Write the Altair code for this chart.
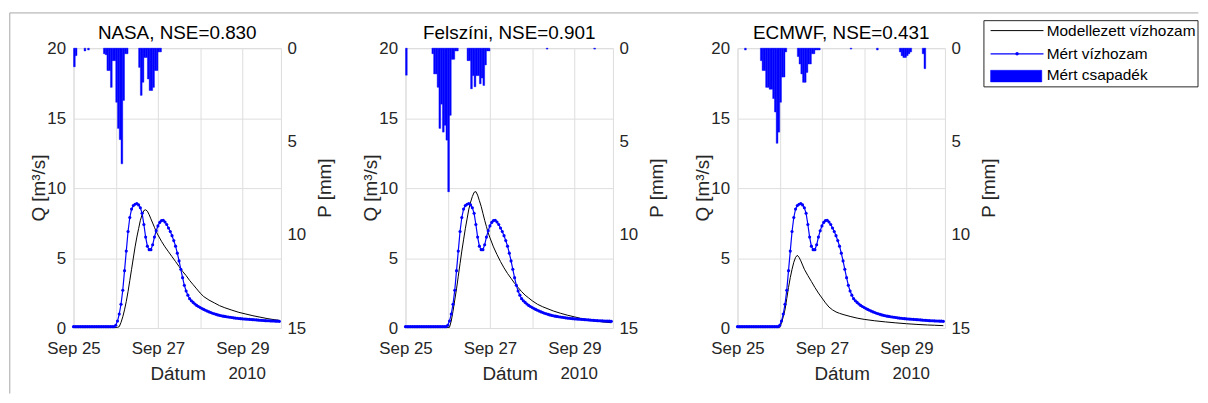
import altair as alt
import pandas as pd

FONT = "Liberation Sans"
AX = "#262626"
GRID = "#dedede"
BLUE = "#0000ff"
FRAME = "#a6a6a6"

TITLES = ["NASA, NSE=0.830", "Felszíni, NSE=0.901", "ECMWF, NSE=0.431"]
X_TICK_HOURS = [0, 24, 48, 72, 96]
X_TICK_LABELS = ["Sep 25", "", "Sep 27", "", "Sep 29"]
Q_TICKS = [0, 5, 10, 15, 20]
P_TICKS = [0, 5, 10, 15]
LEGEND_LABELS = ["Modellezett vízhozam", "Mért vízhozam", "Mért csapadék"]
YEAR_LABEL = "2010"
X_TITLE = "Dátum"
Q_TITLE = "Q [m³/s]"
P_TITLE = "P [mm]"

# measured discharge, hourly from 2010-09-25 00:00
OBS_Q = [0.1] * 24 + [
    0.2, 0.5, 1.0, 1.7, 2.7, 4.1, 5.5, 6.9, 7.9, 8.5, 8.75, 8.85, 8.9, 8.8, 8.6, 8.2,
    7.4, 6.5, 5.85, 5.6, 5.6, 5.95, 6.5, 6.95, 7.3, 7.55, 7.68, 7.7, 7.58, 7.4, 7.15, 6.9,
    6.6, 6.25, 5.85, 5.35, 4.8, 4.2, 3.6, 3.05, 2.65, 2.35, 2.1, 1.95, 1.83, 1.72, 1.62, 1.54,
    1.47, 1.4, 1.33, 1.27, 1.21, 1.16, 1.11, 1.06, 1.02, 0.98, 0.94, 0.91, 0.88, 0.85, 0.83, 0.81,
    0.79, 0.77, 0.75, 0.73, 0.71, 0.7, 0.68, 0.67, 0.66, 0.65, 0.64, 0.63, 0.62, 0.61, 0.6, 0.59,
    0.58, 0.57, 0.56, 0.55, 0.54, 0.53, 0.52, 0.52, 0.51, 0.5, 0.5, 0.49, 0.49, 0.48]
OBS_H = list(range(len(OBS_Q)))

NASA_MOD_H = [0, 25, 26, 27, 28, 29, 30, 31, 32, 33, 34, 35, 36, 37, 38, 39, 40, 41, 42, 43, 44, 45, 46, 47, 48,
              50, 52, 54, 56, 58, 60, 62, 64, 66, 68, 70, 72, 74, 77, 80, 83, 86, 90, 94, 98, 102, 106, 110, 114, 117]
NASA_MOD_Q = [0.05, 0.05, 0.1, 0.4, 0.8, 1.3, 1.9, 2.6, 3.4, 4.2, 5.0, 5.8, 6.5, 7.1, 7.7, 8.1, 8.4, 8.45, 8.35, 8.1, 7.8,
              7.5, 7.2, 6.9, 6.65, 6.2, 5.8, 5.45, 5.1, 4.75, 4.4, 4.05, 3.75, 3.4, 3.1, 2.8, 2.5, 2.25, 2.0, 1.8,
              1.6, 1.45, 1.28, 1.12, 1.0, 0.88, 0.78, 0.68, 0.6, 0.55]

FELSZ_MOD_H = [0, 25, 26, 27, 28, 29, 30, 31, 32, 33, 34, 35, 36, 37, 38, 39, 40, 41, 42, 43, 44, 45, 46, 47, 48,
               50, 52, 54, 56, 58, 60, 62, 64, 66, 68, 70, 72, 75, 78, 81, 84, 88, 92, 96, 100, 104, 108, 112, 117]
FELSZ_MOD_Q = [0.05, 0.05, 0.5, 1.2, 2.0, 2.8, 3.7, 4.6, 5.5, 6.3, 7.1, 7.8, 8.5, 9.0, 9.4, 9.7, 9.75, 9.5, 9.1, 8.7,
               8.2, 7.7, 7.25, 6.8, 6.45, 5.8, 5.25, 4.75, 4.3, 3.9, 3.55, 3.2, 2.9, 2.6, 2.35, 2.15, 1.95, 1.7,
               1.52, 1.37, 1.22, 1.06, 0.92, 0.8, 0.68, 0.58, 0.5, 0.44, 0.38]

ECMWF_MOD_H = [0, 24, 25, 26, 27, 28, 29, 30, 31, 32, 33, 34, 35, 36, 37, 38, 40, 42, 44, 46, 48, 50, 52, 54, 56,
               58, 60, 64, 68, 72, 78, 84, 90, 96, 102, 108, 112, 117]
ECMWF_MOD_Q = [0.05, 0.05, 0.35, 0.8, 1.3, 2.1, 2.9, 3.6, 4.2, 4.7, 5.05, 5.2, 5.05, 4.8, 4.5, 4.2, 3.75, 3.33, 2.9,
               2.5, 2.15, 1.8, 1.5, 1.3, 1.15, 1.05, 0.97, 0.83, 0.71, 0.62, 0.52, 0.44, 0.37, 0.31, 0.26, 0.22,
               0.2, 0.17]

# measured precipitation, hourly bars
NASA_P_H = [0, 1, 6, 8, 17, 18, 19, 20, 21, 22, 23, 24, 25, 26, 27, 28, 29, 30,
            37, 38, 39, 40, 41, 42, 43, 44, 45, 46, 47, 48, 49]
NASA_P = [1.0, 0.4, 0.15, 0.1, 0.3, 0.35, 1.2, 1.2, 2.1, 0.67, 0.67, 2.9, 4.3, 4.9, 6.2, 2.8, 0.3, 0.3,
          1.03, 2.53, 1.83, 0.5, 0.5, 1.65, 2.27, 2.27, 2.1, 1.2, 1.2, 0.2, 0.2]

FELSZ_P_H = [0, 15, 16, 17, 18, 19, 20, 21, 22, 23, 24, 25, 26, 27, 28, 29,
             35, 36, 37, 38, 39, 40, 41, 42, 43, 44, 45, 46, 47, 80, 107]
FELSZ_P = [1.45, 0.3, 1.38, 1.38, 2.1, 4.3, 3.0, 4.5, 4.13, 4.93, 7.7, 3.6, 0.6, 0.6, 0.15, 0.15,
           0.67, 0.67, 2.18, 1.47, 2.07, 1.47, 1.47, 1.91, 1.6, 2.0, 0.9, 0.15, 0.15, 0.05, 0.05]

ECMWF_P_H = [4, 13, 14, 15, 16, 17, 18, 19, 20, 21, 22, 23, 24, 25, 26, 27,
             34, 35, 36, 37, 38, 39, 40, 41, 42, 43, 44, 45, 46, 64, 79,
             92, 93, 94, 95, 96, 97, 98, 105, 106]
ECMWF_P = [0.1, 0.67, 1.2, 1.2, 2.1, 2.1, 2.2, 2.2, 2.7, 3.42, 5.1, 4.5, 2.9, 1.55, 1.55, 0.2,
           0.45, 0.85, 1.38, 1.83, 1.83, 1.3, 0.85, 0.85, 0.3, 0.3, 0.1, 0.1, 0.1, 0.05, 0.1,
           0.2, 0.4, 0.5, 0.5, 0.4, 0.3, 0.2, 0.3, 1.1]

W, H = 209, 282

label_expr = "''"
for hr, lab in reversed(list(zip(X_TICK_HOURS, X_TICK_LABELS))):
    label_expr = f"datum.value == {hr} ? '{lab}' : ({label_expr})"

x_axis = alt.Axis(values=X_TICK_HOURS, labelExpr=label_expr, grid=True, gridColor=GRID,
                  ticks=False, tickSize=0, domain=False, labelPadding=13, labelFlush=False,
                  labelFontSize=17, labelColor=AX, labelFont=FONT, title=None)
x_scale = alt.Scale(domain=[0, 117.9], nice=False, zero=False)

q_axis = alt.Axis(values=Q_TICKS, grid=True, gridColor=GRID, ticks=False, tickSize=0, domain=False,
                  labelPadding=8, labelFlush=False, labelFontSize=17, labelColor=AX, labelFont=FONT,
                  title=None)
q_scale = alt.Scale(domain=[0, 20], nice=False, zero=True)

p_axis = alt.Axis(orient="right", values=P_TICKS, grid=False, ticks=False, tickSize=0, domain=False,
                  labelPadding=6, labelFlush=False, labelFontSize=17, labelColor=AX, labelFont=FONT,
                  title=None)
p_scale = alt.Scale(domain=[0, 15], nice=False, zero=True, reverse=True)

one = pd.DataFrame({"k": [0]})


def label(text, x, y, size=19, color=AX, angle=0, align="center", baseline="middle"):
    kw = dict(font=FONT, fontSize=size, color=color, align=align, baseline=baseline)
    if angle:
        kw["angle"] = angle
    return alt.Chart(pd.DataFrame({"t": [text]})).mark_text(**kw).encode(
        x=alt.value(x), y=alt.value(y), text="t:N")


def panel(title, mod_h, mod_q, p_h, p_v, legend=False, frame=False):
    xenc = alt.X("h:Q", scale=x_scale, axis=x_axis)
    bars = alt.Chart(pd.DataFrame({"h": p_h, "P": p_v})).transform_calculate(
        h2="datum.h + 1"
    ).mark_rect(fill=BLUE, stroke=BLUE, strokeWidth=0.4).encode(
        x=xenc, x2="h2:Q",
        y=alt.Y("P:Q", scale=p_scale, axis=p_axis), y2=alt.datum(0),
    )
    model = alt.Chart(pd.DataFrame({"h": mod_h, "Q": mod_q})).mark_line(
        color="black", strokeWidth=1
    ).encode(x=xenc, y=alt.Y("Q:Q", scale=q_scale, axis=q_axis))
    obs = alt.Chart(pd.DataFrame({"h": OBS_H, "Q": OBS_Q})).mark_line(
        color=BLUE, strokeWidth=1.2,
        point=alt.OverlayMarkDef(filled=True, size=10, color=BLUE),
    ).encode(x=xenc, y=alt.Y("Q:Q", scale=q_scale, axis=q_axis))
    texts = [
        label(title, W / 2, -9.5, size=19, color="black", baseline="alphabetic"),
        label(Q_TITLE, -34.7, H / 2, angle=270),
        label(P_TITLE, W + 44.5, H / 2, angle=270),
        label(X_TITLE, W / 2 + 1, H + 46.5),
        label(YEAR_LABEL, 175, H + 46.5, size=17),
    ]
    inner = [model, obs] + texts
    if frame:
        top = alt.Chart(one).mark_rule(color=FRAME, strokeWidth=1).encode(
            x=alt.value(-64.2), x2=alt.value(1133.3), y=alt.value(-35.5))
        left = alt.Chart(one).mark_rule(color=FRAME, strokeWidth=1).encode(
            x=alt.value(-64.2), y=alt.value(-35.5), y2=alt.value(348))
        inner += [top, left]
    if legend:
        box = alt.Chart(one).mark_rect(fill="white", stroke=AX, strokeWidth=1).encode(
            x=alt.value(248.3), x2=alt.value(464.0), y=alt.value(-27.7), y2=alt.value(39))
        l1 = alt.Chart(one).mark_rule(color="black", strokeWidth=1).encode(
            x=alt.value(255), x2=alt.value(308.3), y=alt.value(-17.7))
        l2 = alt.Chart(one).mark_rule(color=BLUE, strokeWidth=1.2).encode(
            x=alt.value(255), x2=alt.value(308.3), y=alt.value(5.7))
        l2p = alt.Chart(one).mark_point(filled=True, color=BLUE, size=12, opacity=1).encode(
            x=alt.value(281.7), y=alt.value(5.7))
        l3 = alt.Chart(one).mark_rect(fill=BLUE, stroke=BLUE, strokeWidth=0.5).encode(
            x=alt.value(255), x2=alt.value(306.6), y=alt.value(22.3), y2=alt.value(34))
        ys = [-17.7, 5.7, 27.3]
        ltexts = [label(lab, 311.6, yy, size=15.5, color="black", align="left")
                  for lab, yy in zip(LEGEND_LABELS, ys)]
        inner += [box, l1, l2, l2p, l3] + ltexts
    lines = alt.layer(*inner)
    return alt.layer(bars, lines).resolve_scale(y="independent").properties(width=W, height=H)


p1 = panel(TITLES[0], NASA_MOD_H, NASA_MOD_Q, NASA_P_H, NASA_P, frame=True)
p2 = panel(TITLES[1], FELSZ_MOD_H, FELSZ_MOD_Q, FELSZ_P_H, FELSZ_P)
p3 = panel(TITLES[2], ECMWF_MOD_H, ECMWF_MOD_Q, ECMWF_P_H, ECMWF_P, legend=True)

chart = alt.hconcat(p1, p2, p3, spacing=125.5, bounds="flush").properties(
    padding={"left": 0, "top": 2, "right": 0, "bottom": 0},
    background="white",
).configure_view(stroke=AX, strokeWidth=1).configure(font=FONT)

chart.save("out.html", embed_options={"renderer": "svg", "actions": False})
